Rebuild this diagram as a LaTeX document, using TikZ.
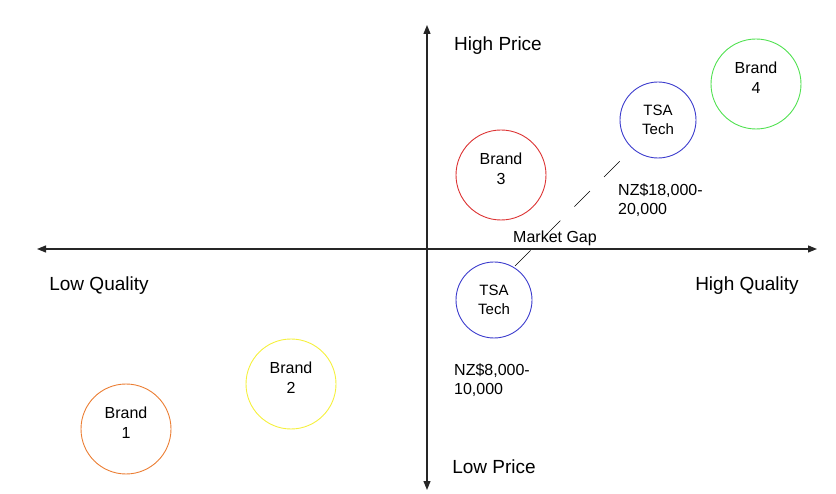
\documentclass[tikz,border=0pt]{standalone}
\usepackage{fontspec}
\setmainfont{Liberation Sans}
\usetikzlibrary{arrows.meta}
\definecolor{cOrange}{RGB}{235,125,50}
\definecolor{cYellow}{RGB}{245,240,60}
\definecolor{cRed}{RGB}{220,50,50}
\definecolor{cGreen}{RGB}{80,225,80}
\definecolor{cBlue}{RGB}{60,60,205}
\begin{document}
\begin{tikzpicture}[x=1pt,y=-1pt,
  axis/.style={line width=1.2pt,draw=black!85,-{Triangle[length=9pt,width=7pt]}},
  brand/.style={circle,draw,line width=0.9pt,minimum size=90pt,inner sep=0pt,align=center,text depth=12pt,font=\fontsize{16}{20}\selectfont},
  tsa/.style={circle,draw=cBlue,line width=0.9pt,minimum size=76pt,inner sep=0pt,align=center,font=\fontsize{15}{18.5}\selectfont},
  axlabel/.style={font=\fontsize{19}{22}\selectfont},
  price/.style={align=left,anchor=north west,inner sep=0pt,font=\fontsize{16}{19.5}\selectfont},
  gap/.style={line width=0.7pt,dash pattern=on 22pt off 20pt}]
\useasboundingbox (0,0) rectangle (836,494);
\coordinate (vt) at (427,25);
\coordinate (vb) at (427,490);
\coordinate (hl) at (37,249);
\coordinate (hr) at (817,249);
\coordinate (vs) at (427,249);
\coordinate (hs) at (427,249);
\draw[axis] (vs) -- (vt);
\draw[axis] (vs) -- (vb);
\draw[axis] (hs) -- (hl);
\draw[axis] (hs) -- (hr);
\node[axlabel] (hp) at (498,46) {High Price};
\node[axlabel] (lp) at (494,467) {Low Price};
\node[axlabel] (lq) at (99,286) {Low Quality};
\node[axlabel] (hq) at (747,286) {High Quality};
\node[brand,draw=cOrange] (b1) at (126,429) {Brand\\1};
\node[brand,draw=cYellow] (b2) at (291,384) {Brand\\2};
\node[brand,draw=cRed] (b3) at (501,175) {Brand\\3};
\node[brand,draw=cGreen] (b4) at (756,84) {Brand\\4};
\node[tsa] (t1) at (658,120) {TSA\\Tech};
\node[tsa] (t2) at (494,300) {TSA\\Tech};
\node[price] (p1) at (618,183) {NZ\$18,000-\\20,000};
\node[price] (p2) at (454,363) {NZ\$8,000-\\10,000};
\node[font=\fontsize{16}{19}\selectfont] (mg) at (555,238) {Market Gap};
\coordinate (g1) at (515,266);
\coordinate (g2) at (622,159);
\draw[gap] (g1) -- (g2);
\end{tikzpicture}
\end{document}
